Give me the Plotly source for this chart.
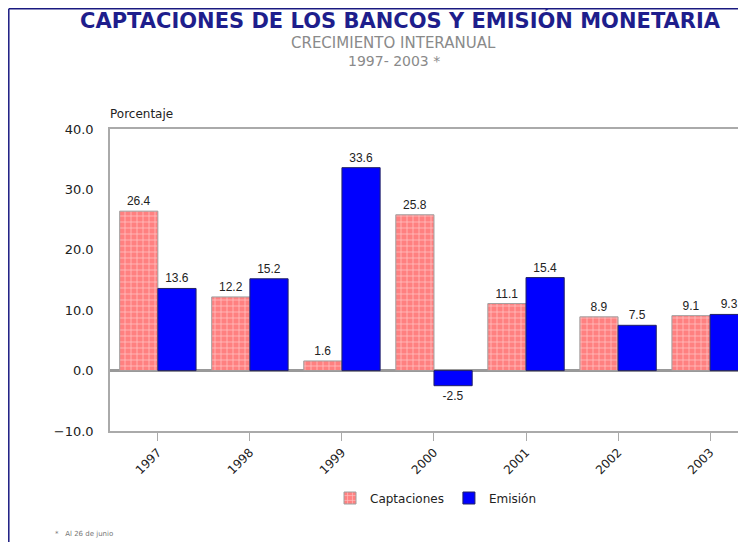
import plotly.graph_objects as go

# Datos del gráfico
anios = ['1997', '1998', '1999', '2000', '2001', '2002', '2003']
captaciones = [26.4, 12.2, 1.6, 25.8, 11.1, 8.9, 9.1]
emision = [13.6, 15.2, 33.6, -2.5, 15.4, 7.5, 9.3]
y_ticks = [-10, 0, 10, 20, 30, 40]

# La página tiene un margen de 8 px, así que la figura empieza en (8, 8)
OFF = 8
W, H = 746 - OFF, 542 - OFF
L, R, T, B = 110, 746, 129, 431  # área del gráfico en píxeles de la captura

FONT = 'DejaVu Sans, Arial, sans-serif'


def px(x):
    return (x - L) / (R - L)


def py(y):
    return (B - y) / (B - T)


fig = go.Figure()

fig.add_trace(go.Bar(
    x=anios, y=captaciones, name='Captaciones',
    marker=dict(color='#ff8080', line=dict(color='#a0a0a0', width=1),
                pattern=dict(shape='+', fgcolor='white', size=6, solidity=0.25, fillmode='overlay')),
    texttemplate='%{y:.1f}', textposition='outside', cliponaxis=False,
    textfont=dict(family='Arial, Liberation Sans, sans-serif', size=12, color='#222'),
))
fig.add_trace(go.Bar(
    x=anios, y=emision, name='Emisión',
    marker=dict(color='#0000ff', line=dict(color='#222266', width=1)),
    texttemplate='%{y:.1f}', textposition='outside', cliponaxis=False,
    textfont=dict(family='Arial, Liberation Sans, sans-serif', size=12, color='#222'),
))

fig.update_layout(
    width=W, height=H,
    margin=dict(l=L - OFF, r=0, t=T - OFF, b=H - (B - OFF)),
    paper_bgcolor='white', plot_bgcolor='white',
    font=dict(family=FONT, size=12, color='#222'),
    barmode='group', bargap=0.17, bargroupgap=0,
    showlegend=True,
    legend=dict(orientation='h', x=px(436), y=py(498), xanchor='center', yanchor='middle',
                font=dict(size=12), itemwidth=30, tracegroupgap=0),
    xaxis=dict(
        type='category', range=[-0.52, 6.39],
        showline=True, linecolor='#aaaaaa', linewidth=1.5, mirror=True,
        ticks='outside', ticklen=8, tickcolor='#aaaaaa', tickangle=-45,
        tickfont=dict(size=12), showgrid=False,
    ),
    yaxis=dict(
        range=[-10, 40], tickvals=y_ticks, tickformat='.1f',
        showline=True, linecolor='#aaaaaa', linewidth=1.5,
        showgrid=False, zeroline=True, zerolinecolor='#999999', zerolinewidth=2.5,
        tickfont=dict(size=13, color='#222'), ticks='', ticklabelstandoff=12,
    ),
)

# Títulos
fig.add_annotation(text='<b>CAPTACIONES DE LOS BANCOS Y EMISIÓN MONETARIA</b>',
                   xref='paper', yref='paper', x=px(400), y=py(21), showarrow=False,
                   xanchor='center', yanchor='middle',
                   font=dict(size=21, color='#1e1e8c'))
fig.add_annotation(text='CRECIMIENTO INTERANUAL', xref='paper', yref='paper',
                   x=px(393), y=py(43), showarrow=False, xanchor='center', yanchor='middle',
                   font=dict(size=15, color='#8a8a8a'))
fig.add_annotation(text='1997- 2003 *', xref='paper', yref='paper',
                   x=px(394), y=py(61), showarrow=False, xanchor='center', yanchor='middle',
                   font=dict(size=14, color='#8a8a8a'))
fig.add_annotation(text='Porcentaje', xref='paper', yref='paper',
                   x=px(108), y=py(114), showarrow=False, xanchor='left', yanchor='middle',
                   font=dict(size=12, color='#222'))
fig.add_annotation(text='*   Al 26 de junio', xref='paper', yref='paper',
                   x=px(53), y=py(534), showarrow=False, xanchor='left', yanchor='middle',
                   font=dict(size=7, color='#777'))

# Marco azul superior e izquierdo (en el borde de la figura)
fig.add_shape(type='line', xref='paper', yref='paper', x0=px(8.8), x1=px(746), y0=py(8.8), y1=py(8.8),
              line=dict(color='#1a1a80', width=1.5), layer='above')
fig.add_shape(type='line', xref='paper', yref='paper', x0=px(8.8), x1=px(8.8), y0=py(8.8), y1=py(560),
              line=dict(color='#1a1a80', width=1.5), layer='above')

fig.write_html('out.html', config={'displayModeBar': False})
